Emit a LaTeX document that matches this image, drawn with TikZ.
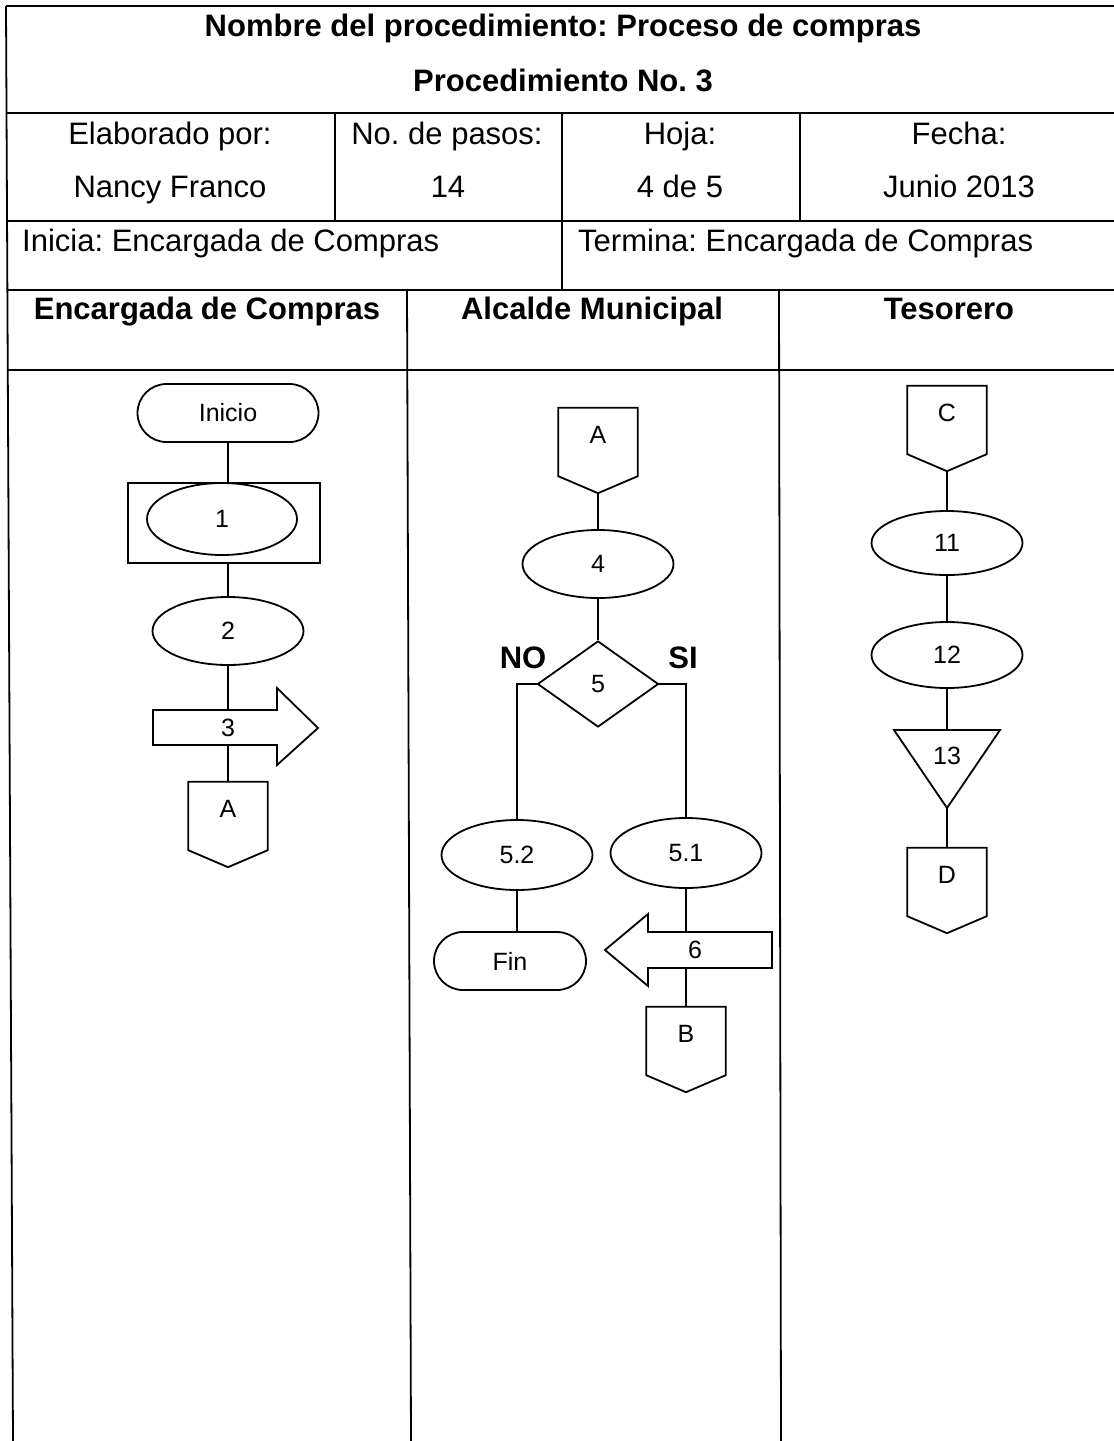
\documentclass[tikz,border=0pt]{standalone}
\usepackage{fontspec}
\setmainfont{Liberation Sans}
\usetikzlibrary{shapes.geometric,calc}
\frenchspacing

% off-page connector: pentagon hanging below the named body node
\newcommand\offpageoutline[1]{%
  \draw[shapeline] (#1.north west) -- (#1.north east) -- (#1.south east)
    -- ([yshift=-17pt]#1.south) -- (#1.south west) -- cycle;}

\begin{document}
\begin{tikzpicture}[x=1pt,y=-1pt,
  rule/.style={line width=1.8pt},
  shapeline/.style={line width=1.8pt, line join=miter},
  link/.style={line width=1.8pt},
  bigtxt/.style={font=\fontsize{31}{37}\selectfont, inner sep=0pt},
  bigbold/.style={font=\fontsize{31}{37}\selectfont\bfseries, inner sep=0pt},
  lbl/.style={font=\fontsize{25}{30}\selectfont, inner sep=0pt},
  oval/.style={ellipse, draw, line width=1.8pt, minimum width=151pt, minimum height=68pt, lbl},
  termbox/.style={rectangle, rounded corners=29pt, draw, line width=1.8pt, minimum height=58pt, lbl},
  offpage/.style={rectangle, draw=none, minimum width=79pt, minimum height=68pt, text depth=14pt, lbl},
  decision/.style={diamond, draw, line width=1.8pt, minimum width=121pt, minimum height=86pt, lbl}
]
\fill[white] (0,0) rectangle (1114,1441);
\useasboundingbox (0,0) rectangle (1114,1441);

% ---------- form frame ----------
\draw[rule] (6,6) -- (13,1441);
\draw[rule] (6,6) -- (1114,6);
\draw[rule] (6,113) -- (1114,113);
\draw[rule] (6,221) -- (1114,221);
\draw[rule] (7,290) -- (1114,290);
\draw[rule] (7,370) -- (1114,370);
\draw[rule] (335,113) -- (335,221);
\draw[rule] (562,113) -- (562,290);
\draw[rule] (800,113) -- (800,221);
\draw[rule] (407,290) -- (411,1441);
\draw[rule] (779,290) -- (781,1441);

% ---------- header texts ----------
\node[bigbold, anchor=base] (title) at (563,36) {Nombre del procedimiento: Proceso de compras};
\node[bigbold, anchor=base] (procno) at (563,91) {Procedimiento No. 3};

\node[bigtxt, anchor=base] (elab) at (170,144) {Elaborado por:};
\node[bigtxt, anchor=base] (pasos) at (447,144) {No. de pasos:};
\node[bigtxt, anchor=base] (hoja) at (680,144) {Hoja:};
\node[bigtxt, anchor=base] (fecha) at (959,144) {Fecha:};
\node[bigtxt, anchor=base] (autor) at (170,197) {Nancy Franco};
\node[bigtxt, anchor=base] (npasos) at (448,197) {14};
\node[bigtxt, anchor=base] (nhoja) at (680,197) {4 de 5};
\node[bigtxt, anchor=base] (nfecha) at (959,197) {Junio 2013};

\node[bigtxt, anchor=base west] (inicia) at (22,251) {Inicia: Encargada de Compras};
\node[bigtxt, anchor=base west] (termina) at (578,251) {Termina: Encargada de Compras};

\node[bigbold, anchor=base] (lane1) at (207,319) {Encargada de Compras};
\node[bigbold, anchor=base] (lane2) at (592,319) {Alcalde Municipal};
\node[bigbold, anchor=base] (lane3) at (949,319) {Tesorero};

% ---------- lane 1: Encargada de Compras ----------
\node[termbox, minimum width=181pt] (inicio) at (228,413) {Inicio};
\node[rectangle, draw, line width=1.8pt, minimum width=192pt, minimum height=80pt] (box1) at (224,523) {};
\node[oval, minimum width=150pt, minimum height=72pt] (e1) at (222,519) {1};
\node[oval] (e2) at (228,631) {2};
\node[lbl] (s3) at (228,728) {3};
\draw[shapeline] ($(s3)+(-75,-18)$) -- ($(s3)+(49,-18)$) -- ($(s3)+(49,-40)$)
  -- ($(s3)+(90,0)$) -- ($(s3)+(49,37)$) -- ($(s3)+(49,17)$) -- ($(s3)+(-75,17)$) -- cycle;
\coordinate (s3top) at ($(s3)+(0,-18)$);
\coordinate (s3bot) at ($(s3)+(0,17)$);
\node[offpage] (A1) at (228,816) {A};
\offpageoutline{A1}

\draw[link] (inicio.south) -- (inicio.south |- box1.north);
\draw[link] (box1.south -| e2) -- (e2.north);
\draw[link] (e2.south) -- (s3top);
\draw[link] (s3bot) -- (A1.north);

% ---------- lane 2: Alcalde Municipal ----------
\node[offpage] (A2) at (598,442) {A};
\offpageoutline{A2}
\node[oval] (e4) at (598,564) {4};
\node[decision] (d5) at (598,684) {5};
\node[bigbold] (no) at (523,658) {NO};
\node[bigbold] (si) at (683,658) {SI};
\node[oval, minimum height=70pt] (e52) at (517,855) {5.2};
\node[oval, minimum height=70pt] (e51) at (686,853) {5.1};
\node[termbox, minimum width=152pt] (fin) at (510,961) {Fin};
\node[lbl] (s6) at (695,950) {6};
\draw[shapeline] ($(s6)+(77,-18)$) -- ($(s6)+(-47,-18)$) -- ($(s6)+(-47,-36)$)
  -- ($(s6)+(-90,0)$) -- ($(s6)+(-47,36)$) -- ($(s6)+(-47,18)$) -- ($(s6)+(77,18)$) -- cycle;
\coordinate (s6top) at ($(s6)+(0,-18)$);
\coordinate (s6bot) at ($(s6)+(0,18)$);
\node[offpage] (B) at (686,1041) {B};
\offpageoutline{B}

\draw[link] ([yshift=-17pt]A2.south) -- (e4.north);
\draw[link] (e4.south) -- (d5.north);
\draw[link] (d5.west) -| (e52.north);
\draw[link] (d5.east) -| (e51.north);
\draw[link] (e52.south) -- (e52.south |- fin.north);
\draw[link] (e51.south) -- (e51.south |- s6top);
\draw[link] (e51.south |- s6bot) -- (B.north);

% ---------- lane 3: Tesorero ----------
\node[offpage] (C) at (947,420) {C};
\offpageoutline{C}
\node[oval, minimum height=64pt] (e11) at (947,543) {11};
\node[oval, minimum height=66pt] (e12) at (947,655) {12};
\node[lbl] (t13) at (947,756) {13};
\draw[shapeline] ($(t13)+(-53,-26)$) -- ($(t13)+(53,-26)$) -- ($(t13)+(0,52)$) -- cycle;
\coordinate (t13top) at ($(t13)+(0,-26)$);
\coordinate (t13tip) at ($(t13)+(0,52)$);
\node[offpage] (D) at (947,882) {D};
\offpageoutline{D}

\draw[link] ([yshift=-17pt]C.south) -- (e11.north);
\draw[link] (e11.south) -- (e12.north);
\draw[link] (e12.south) -- (t13top);
\draw[link] (t13tip) -- (D.north);
\end{tikzpicture}
\end{document}
